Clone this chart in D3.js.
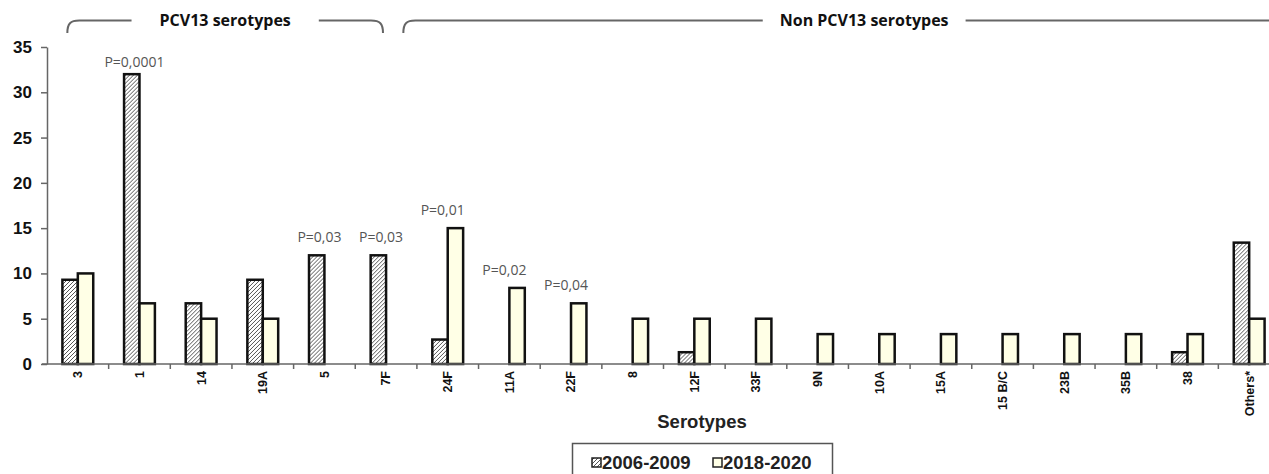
<!DOCTYPE html>
<html>
<head>
<meta charset="utf-8">
<script src="https://cdn.jsdelivr.net/npm/d3@7"></script>
<style>
  body { margin: 0; background: #fff; }
  svg { display: block; }
</style>
</head>
<body>
<div id="chart"></div>
<script>
// data (percent of isolates)
var serotypes = ["3", "1", "14", "19A", "5", "7F", "24F", "11A", "22F", "8", "12F", "33F",
                 "9N", "10A", "15A", "15 B/C", "23B", "35B", "38", "Others*"];
var period1 = [9.3, 32, 6.7, 9.3, 12, 12, 2.7, 0, 0, 0, 1.3, 0, 0, 0, 0, 0, 0, 0, 1.3, 13.4];
var period2 = [10, 6.7, 5, 5, 0, 0, 15, 8.4, 6.7, 5, 5, 5, 3.3, 3.3, 3.3, 3.3, 3.3, 3.3, 3.3, 5];
var seriesNames = ["2006-2009", "2018-2020"];
var yTicks = [0, 5, 10, 15, 20, 25, 30, 35];

// p-values written above some groups
var pSerotypes = ["1", "5", "7F", "24F", "11A", "22F"];
var pLabels = ["P=0,0001", "P=0,03", "P=0,03", "P=0,01", "P=0,02", "P=0,04"];

// brackets along the top
var groupNames = ["PCV13 serotypes", "Non PCV13 serotypes"];
var groupFirst = ["3", "24F"];
var groupLast = ["7F", "Others*"];

var W = 1269, H = 474;
var m = {left: 47, right: 1280, top: 47, bottom: 364};

var svg = d3.select("#chart").append("svg")
    .attr("width", W)
    .attr("height", H);

var defs = svg.append("defs");
var hatch = defs.append("pattern")
    .attr("id", "hatch")
    .attr("patternUnits", "userSpaceOnUse")
    .attr("width", 4)
    .attr("height", 4);
hatch.append("rect").attr("width", 4).attr("height", 4).attr("fill", "#fff");
hatch.append("path")
    .attr("d", "M-1,1 l2,-2 M0,4 l4,-4 M3,5 l2,-2")
    .attr("stroke", "#555")
    .attr("stroke-width", 1);

var fills = ["url(#hatch)", "#ffffe6"];

var x = d3.scaleBand()
    .domain(serotypes)
    .range([m.left, m.right])
    .paddingInner(0)
    .paddingOuter(0);

var step = x.step();
var xIn = d3.scaleBand()
    .domain(seriesNames)
    .range([step * 0.25, step * 0.75]);

var y = d3.scaleLinear()
    .domain([0, 35])
    .range([m.bottom, m.top]);

// rows for bars
var rows = serotypes.map(function(s, i) {
    return {name: s, vals: [period1[i], period2[i]]};
});

// bars
var grp = svg.selectAll(".grp")
    .data(rows)
    .enter().append("g")
    .attr("class", "grp")
    .attr("transform", function(d) { return "translate(" + x(d.name) + ",0)"; });

grp.selectAll("rect")
    .data(function(d) {
        return d.vals.map(function(v, j) { return {key: seriesNames[j], v: v, j: j}; })
            .filter(function(e) { return e.v > 0; });
    })
    .enter().append("rect")
    .attr("x", function(d) { return xIn(d.key); })
    .attr("width", xIn.bandwidth())
    .attr("y", function(d) { return y(d.v); })
    .attr("height", function(d) { return m.bottom - y(d.v); })
    .attr("fill", function(d) { return fills[d.j]; })
    .attr("stroke", "#111")
    .attr("stroke-width", 2.5);

// y axis
var yAxis = svg.append("g")
    .attr("transform", "translate(" + m.left + ",0)")
    .call(d3.axisLeft(y).tickValues(yTicks).tickSize(6).tickPadding(9).tickSizeOuter(0));
yAxis.select(".domain").attr("stroke", "#666").attr("stroke-width", 1.5);
yAxis.selectAll(".tick line").attr("stroke", "#666").attr("stroke-width", 1.5);
yAxis.selectAll("text")
    .style("font", "bold 17px 'Liberation Sans', Arial, sans-serif")
    .attr("fill", "#111");

// x axis line
svg.append("line")
    .attr("x1", m.left - 5).attr("x2", m.right)
    .attr("y1", m.bottom).attr("y2", m.bottom)
    .attr("stroke", "#666")
    .attr("stroke-width", 1.5);

// boundary ticks between serotypes
svg.selectAll(".bt")
    .data(serotypes.slice(1))
    .enter().append("line")
    .attr("class", "bt")
    .attr("x1", function(d) { return x(d); })
    .attr("x2", function(d) { return x(d); })
    .attr("y1", m.bottom)
    .attr("y2", m.bottom + 5)
    .attr("stroke", "#666")
    .attr("stroke-width", 1.5);

// x labels
svg.selectAll(".xl")
    .data(serotypes)
    .enter().append("text")
    .attr("class", "xl")
    .attr("transform", function(d) {
        return "translate(" + (x(d) + step / 2) + "," + (m.bottom + 7) + ") rotate(-90)";
    })
    .attr("text-anchor", "end")
    .attr("dy", "0.35em")
    .style("font", "bold 12.5px 'Liberation Sans', Arial, sans-serif")
    .attr("fill", "#111")
    .text(function(d) { return d; });

// axis title
svg.append("text")
    .attr("x", 702)
    .attr("y", 428)
    .attr("text-anchor", "middle")
    .style("font", "bold 18.5px 'Liberation Sans', Arial, sans-serif")
    .attr("fill", "#222")
    .text("Serotypes");

// p-values
pSerotypes.forEach(function(s, i) {
    var k = serotypes.indexOf(s);
    var mx = Math.max(period1[k], period2[k]);
    svg.append("text")
        .attr("x", x(s) + step / 2 - 5)
        .attr("y", Math.max(y(mx) - 13, 67))
        .attr("text-anchor", "middle")
        .style("font", "14px 'Open Sans', sans-serif")
        .attr("fill", "#555")
        .text(pLabels[i]);
});

// top brackets
var pads = [[0.33 * step, 0.45 * step], [-0.22 * step, step + 45]];
var lineY = 20.5, dropY = 33;
groupNames.forEach(function(g, i) {
    var x0 = x(groupFirst[i]) + pads[i][0];
    var x1 = x(groupLast[i]) + pads[i][1];
    var cx = (x0 + x1) / 2;
    var t = svg.append("text")
        .attr("x", cx)
        .attr("y", lineY + 5.5)
        .attr("text-anchor", "middle")
        .style("font", "bold 16px 'Open Sans', sans-serif")
        .attr("fill", "#111")
        .text(g);
    var half = t.node().getComputedTextLength() / 2 + (i === 0 ? 28 : 17);
    var path = d3.path();
    path.moveTo(x0, dropY);
    path.bezierCurveTo(x0, lineY + 3, x0 + 3, lineY, x0 + 12, lineY);
    path.lineTo(cx - half, lineY);
    path.moveTo(cx + half, lineY);
    path.lineTo(x1 - 12, lineY);
    path.bezierCurveTo(x1 - 3, lineY, x1, lineY + 3, x1, dropY);
    svg.append("path")
        .attr("d", path.toString())
        .attr("fill", "none")
        .attr("stroke", "#666")
        .attr("stroke-width", 2);
});

// legend
var lg = svg.append("g");
lg.append("rect")
    .attr("x", 572.5).attr("y", 443.5)
    .attr("width", 260).attr("height", 40)
    .attr("fill", "#fff")
    .attr("stroke", "#555")
    .attr("stroke-width", 1.5);
var legX = [592, 713];
seriesNames.forEach(function(s, j) {
    lg.append("rect")
        .attr("x", legX[j]).attr("y", 458)
        .attr("width", 9).attr("height", 9)
        .attr("fill", fills[j])
        .attr("stroke", "#222")
        .attr("stroke-width", 1.5);
    lg.append("text")
        .attr("x", legX[j] + 10)
        .attr("y", 469)
        .style("font", "bold 18.5px 'Liberation Sans', Arial, sans-serif")
        .attr("fill", "#222")
        .text(s);
});
</script>
</body>
</html>
